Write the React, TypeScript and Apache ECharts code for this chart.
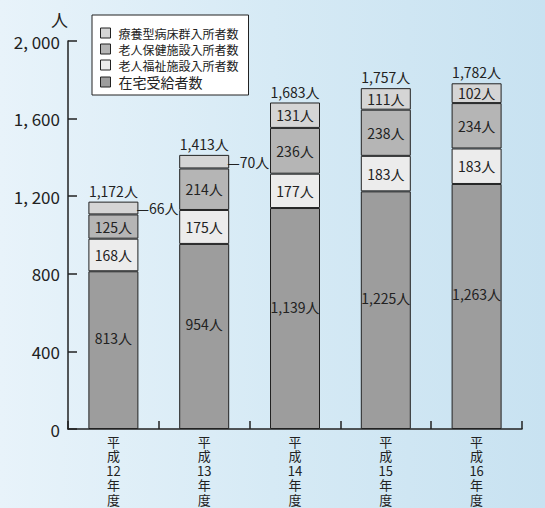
import React, { useEffect, useRef } from "react";
import * as echarts from "echarts";

const categories = ["平成12年度", "平成13年度", "平成14年度", "平成15年度", "平成16年度"];
const axisLabels = ["平\n成\n12\n年\n度", "平\n成\n13\n年\n度", "平\n成\n14\n年\n度", "平\n成\n15\n年\n度", "平\n成\n16\n年\n度"];
const zaitaku = [813, 954, 1139, 1225, 1263];
const fukushi = [168, 175, 177, 183, 183];
const hoken = [125, 214, 236, 238, 234];
const ryoyo = [66, 70, 131, 111, 102];
const totals = [1172, 1413, 1683, 1757, 1782];

const names = ["療養型病床群入所者数", "老人保健施設入所者数", "老人福祉施設入所者数", "在宅受給者数"];
const colors = { ryoyo: "#d5d5d5", hoken: "#b5b5b5", fukushi: "#ececec", zaitaku: "#9d9d9d" };

const FONT = "'Noto Sans CJK JP', 'Noto Sans', sans-serif";
const fmt = (v: number) => `${v.toLocaleString("en-US")}人`;

export default function App() {
  const ref = useRef<HTMLDivElement>(null);
  useEffect(() => {
    document.body.style.margin = "0";
    const chart = echarts.init(ref.current!, null, { renderer: "svg" });
    const border = { borderColor: "#222", borderWidth: 1 };
    const lbl = { show: true, color: "#222", fontSize: 14, fontFamily: FONT, formatter: (p: any) => fmt(p.value) };
    const barW = 50;
    chart.setOption({
      animation: false,
      backgroundColor: new echarts.graphic.LinearGradient(0, 0, 1, 0, [
        { offset: 0, color: "#e8f3fa" },
        { offset: 0.5, color: "#d6eaf5" },
        { offset: 1, color: "#c8e2f1" },
      ]),
      textStyle: { fontFamily: FONT },
      grid: { left: 68, right: 23, top: 41, bottom: 79 },
      legend: {
        orient: "vertical",
        left: 92,
        top: 15,
        padding: [12, 10, 6, 8],
        itemGap: 4,
        itemWidth: 10,
        itemHeight: 10,
        backgroundColor: "#ffffff",
        borderColor: "#222",
        borderWidth: 1,
        borderRadius: 0,
        icon: "rect",
        itemStyle: { borderColor: "#222", borderWidth: 1 },
        data: names,
        formatter: (n: string) => (n === "在宅受給者数" ? `{b|${n}}` : `{a|${n}}`),
        textStyle: {
          color: "#222",
          padding: [0, 0, 0, 3],
          rich: {
            a: { fontSize: 12, fontFamily: FONT, color: "#222", lineHeight: 14 },
            b: { fontSize: 14, fontFamily: FONT, color: "#222", lineHeight: 14 },
          },
        },
      },
      xAxis: {
        type: "category",
        data: categories,
        axisLine: { lineStyle: { color: "#222", width: 1.5 } },
        axisTick: { show: true, inside: true, length: 8, lineStyle: { color: "#222", width: 1.5 } },
        axisLabel: {
          formatter: (_v: string, i: number) => axisLabels[i],
          color: "#222",
          fontSize: 13,
          lineHeight: 14.5,
          margin: 5,
          fontFamily: FONT,
        },
      },
      yAxis: {
        type: "value",
        min: 0,
        max: 2000,
        interval: 400,
        name: "人",
        nameLocation: "end",
        nameGap: 13,
        nameTextStyle: { color: "#222", fontSize: 17, align: "right", fontFamily: FONT },
        axisLine: { show: true, lineStyle: { color: "#222", width: 1.5 } },
        axisTick: { show: true, inside: true, length: 9, lineStyle: { color: "#222", width: 1.5 } },
        splitLine: { show: false },
        axisLabel: {
          color: "#222",
          fontSize: 17,
          margin: 8,
          fontFamily: FONT,
          formatter: (v: number) => (v >= 1000 ? `${Math.floor(v / 1000)}, ${String(v % 1000).padStart(3, "0")}` : `${v}`),
        },
      },
      series: [
        {
          name: "在宅受給者数",
          type: "bar",
          stack: "a",
          barWidth: barW,
          data: zaitaku,
          itemStyle: { color: colors.zaitaku, ...border },
          label: { ...lbl, position: "inside", offset: [0, -12] },
        },
        {
          name: "老人福祉施設入所者数",
          type: "bar",
          stack: "a",
          barWidth: barW,
          data: fukushi,
          itemStyle: { color: colors.fukushi, ...border },
          label: { ...lbl, position: "inside" },
        },
        {
          name: "老人保健施設入所者数",
          type: "bar",
          stack: "a",
          barWidth: barW,
          data: hoken,
          itemStyle: { color: colors.hoken, ...border },
          label: { ...lbl, position: "inside" },
        },
        {
          name: "療養型病床群入所者数",
          type: "bar",
          stack: "a",
          barWidth: barW,
          data: ryoyo.map((v) =>
            v < 80
              ? { value: v, label: { position: "right", offset: [-7, 0], formatter: "—{c}人" } }
              : { value: v }
          ),
          itemStyle: { color: colors.ryoyo, ...border },
          label: { ...lbl, position: "inside" },
        },
        {
          name: "合計",
          type: "bar",
          stack: "a",
          barWidth: barW,
          data: totals.map(() => 0),
          itemStyle: { color: "rgba(0,0,0,0)", borderWidth: 0 },
          label: {
            show: true,
            position: "top",
            distance: 4,
            color: "#222",
            fontSize: 14,
            fontFamily: FONT,
            formatter: (p: any) => fmt(totals[p.dataIndex]),
          },
        },
      ],
    });
    return () => chart.dispose();
  }, []);
  return <div ref={ref} style={{ width: 545, height: 508 }} />;
}
